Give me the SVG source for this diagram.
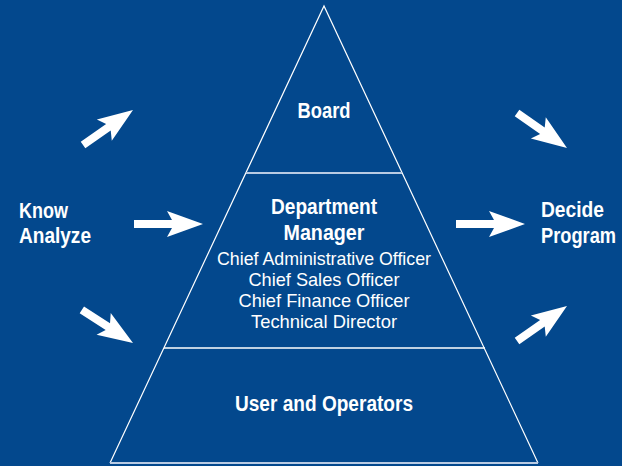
<svg xmlns="http://www.w3.org/2000/svg" width="622" height="466" viewBox="0 0 622 466">
<style>
.bg{fill:#03488D}
.side{stroke:#ffffff;stroke-width:1.2;fill:none}
.sep{stroke:#b9cbe3;stroke-width:2;fill:none}
.sep2{stroke:#ffffff;stroke-width:1.6;fill:none}
.b{font-family:"Liberation Sans",Arial,sans-serif;font-weight:bold;font-size:22px;fill:#ffffff}
.r{font-family:"Liberation Sans",Arial,sans-serif;font-size:18.5px;fill:#ffffff}
.arrow{fill:#ffffff}
</style>
<defs>
<path id="ah" d="M-69,-4 L-31,-4 L-36,-13 L0,0 L-36,13 L-31,4 L-69,4 Z"/>
<path id="ad" d="M-61,-4 L-30,-4 L-35,-13 L0,0 L-35,13 L-30,4 L-61,4 Z"/>
</defs>
<rect class="bg" x="0" y="0" width="622" height="466"/>
<g id="pyramid">
<path class="side" d="M110,463 L324,6 L538,463"/>
<line class="sep" x1="246" y1="173" x2="402" y2="173"/>
<line class="sep2" x1="164" y1="348" x2="485" y2="348"/>
<line class="sep" x1="110" y1="463" x2="538" y2="463"/>
</g>
<g id="board">
<text class="b" x="324" y="118" text-anchor="middle" textLength="53" lengthAdjust="spacingAndGlyphs">Board</text>
</g>
<g id="department">
<text class="b" x="324" y="214" text-anchor="middle" textLength="106" lengthAdjust="spacingAndGlyphs">Department</text>
<text class="b" x="324" y="240" text-anchor="middle" textLength="81" lengthAdjust="spacingAndGlyphs">Manager</text>
<text class="r" x="324" y="265" text-anchor="middle" textLength="214" lengthAdjust="spacingAndGlyphs">Chief Administrative Officer</text>
<text class="r" x="324" y="286" text-anchor="middle" textLength="151" lengthAdjust="spacingAndGlyphs">Chief Sales Officer</text>
<text class="r" x="324" y="307" text-anchor="middle" textLength="171" lengthAdjust="spacingAndGlyphs">Chief Finance Officer</text>
<text class="r" x="324" y="328" text-anchor="middle" textLength="146" lengthAdjust="spacingAndGlyphs">Technical Director</text>
</g>
<g id="users">
<text class="b" x="324" y="411" text-anchor="middle" textLength="178" lengthAdjust="spacingAndGlyphs">User and Operators</text>
</g>
<g id="know">
<text class="b" x="19" y="218" textLength="49" lengthAdjust="spacingAndGlyphs">Know</text>
<text class="b" x="19" y="243" textLength="72" lengthAdjust="spacingAndGlyphs">Analyze</text>
</g>
<g id="decide">
<text class="b" x="541" y="217" textLength="63" lengthAdjust="spacingAndGlyphs">Decide</text>
<text class="b" x="541" y="243" textLength="75" lengthAdjust="spacingAndGlyphs">Program</text>
</g>
<g id="connectors" class="arrow">
<use href="#ad" transform="translate(133,110) rotate(-35)"/>
<use href="#ah" transform="translate(203,224)"/>
<use href="#ad" transform="translate(133,343) rotate(33)"/>
<use href="#ad" transform="translate(567,148) rotate(35)"/>
<use href="#ah" transform="translate(525,224)"/>
<use href="#ad" transform="translate(567,306) rotate(-35)"/>
</g>
</svg>
